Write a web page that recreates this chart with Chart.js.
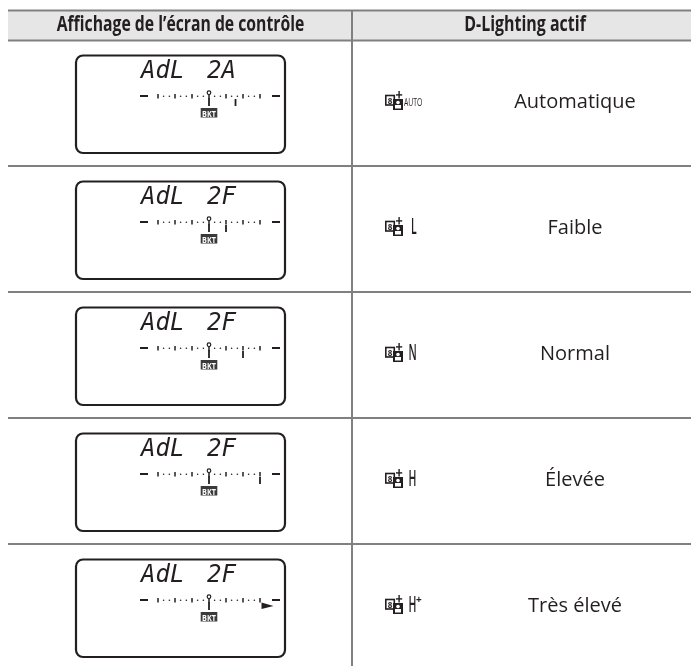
<!DOCTYPE html>
<html>
<head>
<meta charset="utf-8">
<script src="https://cdn.jsdelivr.net/npm/chart.js@4"></script>
<style>
  html, body { margin: 0; padding: 0; background: #fff; }
  canvas { display: block; }
</style>
</head>
<body>
<canvas id="myChart" width="691" height="666"></canvas>
<script>
// table content
const headers = ['Affichage de l’écran de contrôle', 'D-Lighting actif']
const lcdWords = ['AdL', 'AdL', 'AdL', 'AdL', 'AdL']
const lcdModes = ['2A', '2F', '2F', '2F', '2F']
const iconLabels = ['AUTO', 'L', 'N', 'H', 'H']
const rowLabels = ['Automatique', 'Faible', 'Normal', 'Élevée', 'Très élevé']
// bracketing level shown on each lcd scale, the last row is off the scale (arrow)
const levels = [1.56, 1, 2, 3, null]
const scaleMajor = [-3, -2, -1, 0, 1, 2, 3]
const scaleMinor = [-2.67, -2.33, -1.67, -1.33, -0.67, -0.33, 0.33, 0.67, 1.33, 1.67, 2.33, 2.67]

// page layout, in scale units (1 unit = 1 px of the reference)
const tableLeft = 8, tableRight = 691, colSplit = 352
const headTop = 10.5, headBottom = 40.5, firstRule = 166, rowStep = 126
const ruleColor = '#808080', ink = '#231f20'
const lcdCenter = 209, evStep = 17

const lcdY = i => 54 + i * 126
const evX = ev => lcdCenter + ev * evStep

// rules of the table, gaps between segments
const rules = []
const seg = (x1, y1, x2, y2) => rules.push({x: x1, y: y1}, {x: x2, y: y2}, {x: null, y: null})
seg(tableLeft, headTop, tableRight, headTop)
seg(tableLeft, headBottom, tableRight, headBottom)
rowLabels.forEach((r, i) => { if (i < rowLabels.length - 1) seg(tableLeft, firstRule + i * rowStep, tableRight, firstRule + i * rowStep) })
seg(colSplit, headTop, colSplit, 666)

const majorTicks = [], minorDots = [], dashes = [], needles = [], centers = []
rowLabels.forEach((r, i) => {
  const y = lcdY(i)
  scaleMajor.forEach(ev => majorTicks.push({x: evX(ev), y: y + 40}, {x: evX(ev), y: y + 44.5}, {x: null, y: null}))
  scaleMinor.forEach(ev => minorDots.push({x: evX(ev), y: y + 42.3}))
  dashes.push({x: 140, y: y + 42}, {x: 148, y: y + 42}, {x: null, y: null})
  dashes.push({x: 272, y: y + 42}, {x: 280, y: y + 42}, {x: null, y: null})
  needles.push({x: evX(0), y: y + 44}, {x: evX(0), y: y + 52}, {x: null, y: null})
  if (levels[i] !== null) needles.push({x: evX(levels[i]), y: y + 45}, {x: evX(levels[i]), y: y + 52}, {x: null, y: null})
  centers.push({x: evX(0), y: y + 38.7})
})

const line = (data, color, width) => ({
  data, showLine: true, spanGaps: false, borderColor: color, borderWidth: width,
  pointRadius: 0, borderCapStyle: 'butt'
})

const tablePlugin = {
  id: 'tablePlugin',
  beforeDatasetsDraw(chart) {
    const {ctx, scales: {x, y}} = chart
    ctx.fillStyle = '#e6e6e6'
    ctx.fillRect(x.getPixelForValue(tableLeft), y.getPixelForValue(headTop), x.getPixelForValue(tableRight) - x.getPixelForValue(tableLeft), y.getPixelForValue(headBottom) - y.getPixelForValue(headTop))
  },
  afterDatasetsDraw(chart) {
    const {ctx, scales: {x, y}} = chart
    // squeeze < 1 fakes the condensed face that is not installed
    const text = (s, px, py, font, align = 'center', color = ink, squeeze = 1) => {
      ctx.save()
      ctx.translate(x.getPixelForValue(px), y.getPixelForValue(py))
      ctx.scale(squeeze, 1)
      ctx.font = font
      ctx.textAlign = align
      ctx.textBaseline = 'alphabetic'
      ctx.fillStyle = color
      ctx.fillText(s, 0, 0)
      ctx.restore()
    }
    const headFont = 'bold 21px "Open Sans"'
    text(headers[0], 180.5, 30.5, headFont, 'center', ink, 0.75)
    text(headers[1], 525, 30.5, headFont, 'center', ink, 0.76)

    rowLabels.forEach((label, i) => {
      const top = lcdY(i)
      // lcd frame
      ctx.strokeStyle = ink
      ctx.lineWidth = 2.2
      ctx.beginPath()
      ctx.roundRect(x.getPixelForValue(76), y.getPixelForValue(top + 1.5), 209, 97.5, 7)
      ctx.stroke()
      // lcd text
      text(lcdWords[i], 141, top + 24, 'oblique 24px "DejaVu Sans Mono"', 'left')
      text(lcdModes[i], 207, top + 24, 'oblique 24px "DejaVu Sans Mono"', 'left')
      // BKT tag
      ctx.fillStyle = '#3a3a3a'
      ctx.fillRect(x.getPixelForValue(200.7), y.getPixelForValue(top + 54), 16.6, 9.5)
      text('BKT', 209, top + 62.5, 'bold 9px "Open Sans"', 'center', '#fff', 0.8)
      // over-range arrow
      if (levels[i] === null) {
        ctx.fillStyle = ink
        ctx.beginPath()
        ctx.moveTo(x.getPixelForValue(261.5), y.getPixelForValue(top + 44.5))
        ctx.lineTo(x.getPixelForValue(273.5), y.getPixelForValue(top + 48))
        ctx.lineTo(x.getPixelForValue(261.5), y.getPixelForValue(top + 51))
        ctx.fill()
      }
      // d-lighting icon
      const cy = 101 + i * rowStep
      ctx.strokeStyle = ink
      ctx.lineWidth = 1.6
      ctx.strokeRect(x.getPixelForValue(385.8), y.getPixelForValue(cy - 5.5), 8.5, 9.5)
      text('8', 390, cy + 3, 'bold 9px "Open Sans"', 'center', ink, 0.9)
      ctx.fillStyle = ink
      ctx.fillRect(x.getPixelForValue(393), y.getPixelForValue(cy - 2), 10, 11)
      ctx.fillRect(x.getPixelForValue(398.4), y.getPixelForValue(cy - 10), 1.4, 7.5)
      ctx.fillRect(x.getPixelForValue(396), y.getPixelForValue(cy - 6.8), 6.2, 1.4)
      ctx.fillStyle = '#fff'
      ctx.beginPath()
      ctx.arc(x.getPixelForValue(398), y.getPixelForValue(cy + 1.5), 1.8, 0, Math.PI * 2)
      ctx.fill()
      ctx.fillRect(x.getPixelForValue(395), y.getPixelForValue(cy + 4), 6, 3.5)
      // icon label
      if (i === 0) text(iconLabels[i], 404, cy + 4.5, '11px "Open Sans"', 'left', ink, 0.62)
      else text(iconLabels[i], i === 1 ? 411 : 408.5, cy + 7, '600 21px "Open Sans"', 'left', ink, 0.5)
      if (i === 4) text('+', 416, cy - 2.5, 'bold 10px "Open Sans"', 'left')
      // row label
      text(label, 575, 107.5 + i * rowStep, '20px "Open Sans"')
    })
  }
}

const ctx = document.querySelector('#myChart').getContext('2d')
const myChart = new Chart(ctx, {
  type: 'scatter',
  data: {
    datasets: [
      line(rules, ruleColor, 2),
      line(majorTicks, ink, 1.5),
      line(dashes, ink, 1.8),
      line(needles, ink, 1.8),
      {data: minorDots, pointRadius: 0.8, pointBackgroundColor: ink, pointBorderWidth: 0},
      {data: centers, pointRadius: 1.8, pointBackgroundColor: '#fff', pointBorderColor: ink, pointBorderWidth: 1.2}
    ]
  },
  options: {
    responsive: false,
    animation: false,
    layout: {padding: 0, autoPadding: false},
    plugins: {legend: {display: false}, tooltip: {enabled: false}},
    scales: {
      x: {type: 'linear', min: 0, max: 691, display: false},
      y: {type: 'linear', min: 0, max: 666, reverse: true, display: false}
    }
  },
  plugins: [tablePlugin]
})
</script>
</body>
</html>
